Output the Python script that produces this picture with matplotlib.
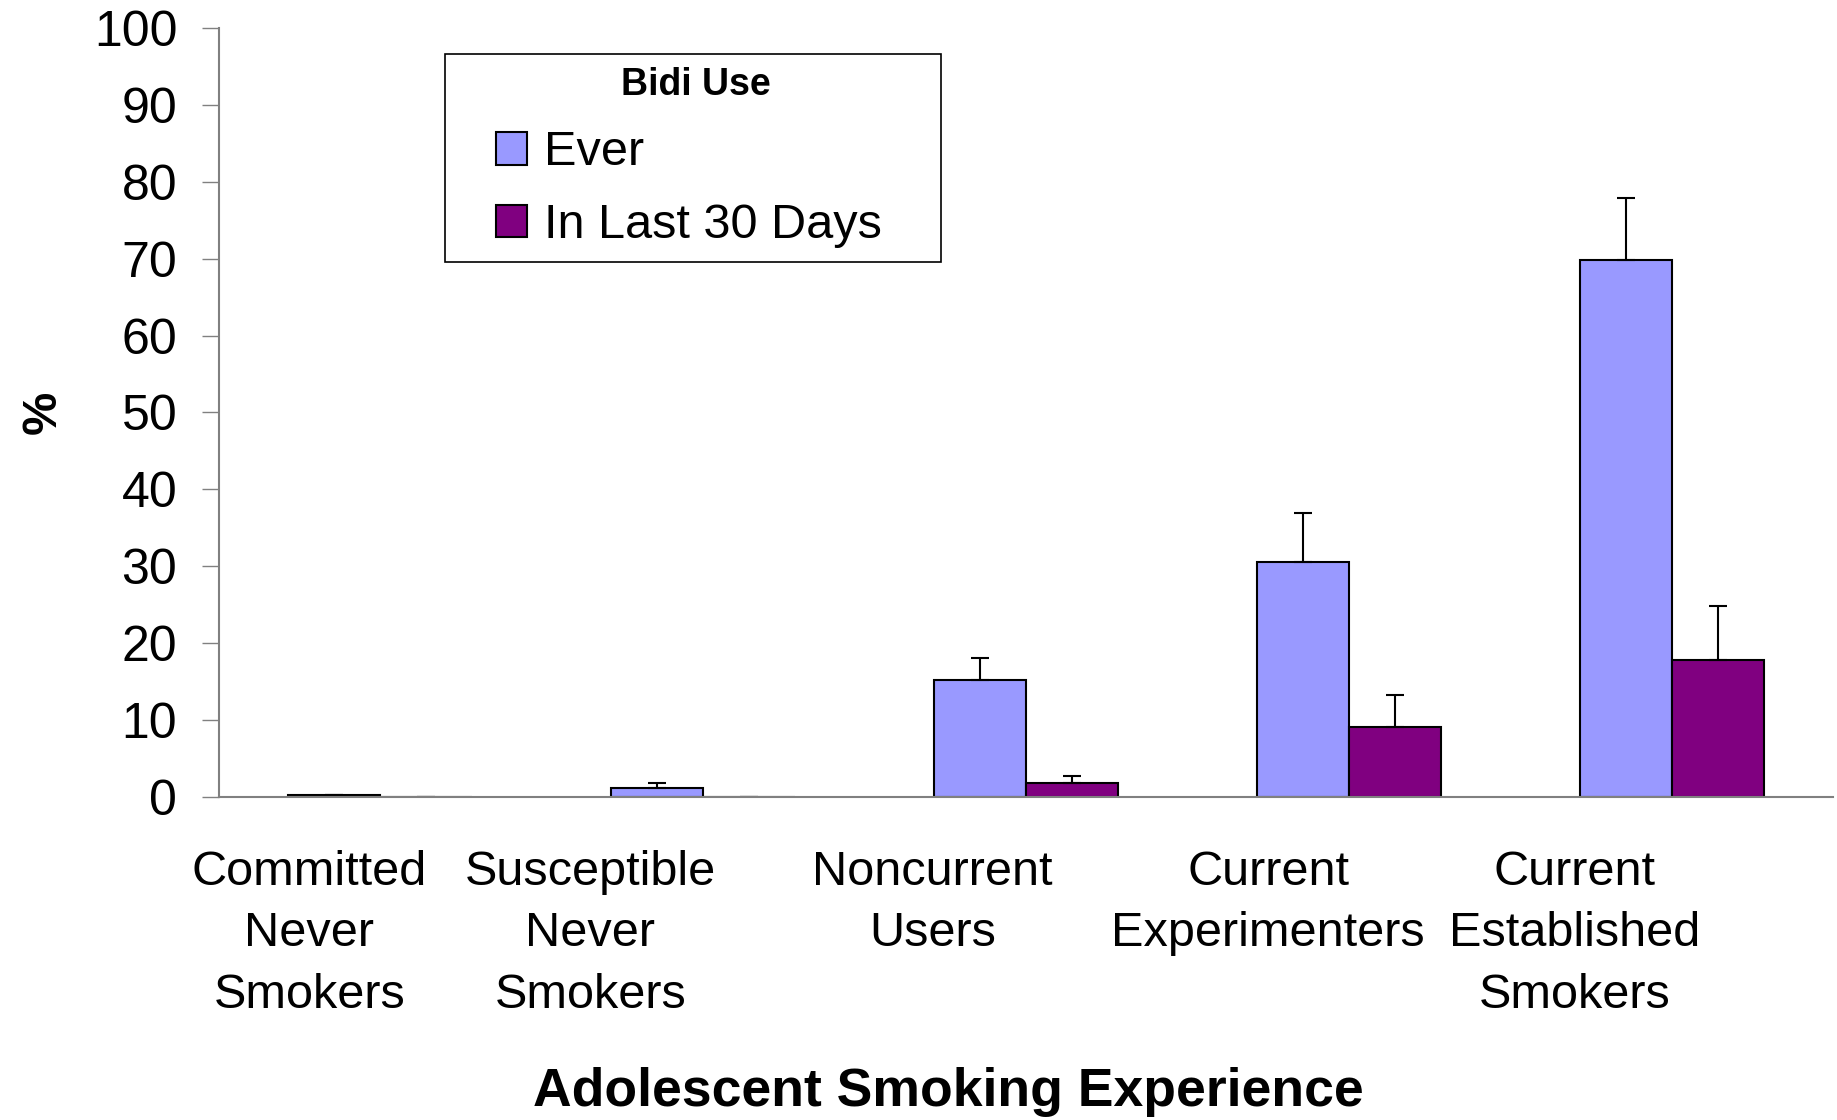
import matplotlib.pyplot as plt
import matplotlib.patches as mpatches
import numpy as np

plt.rcParams['font.family'] = ['Liberation Sans', 'DejaVu Sans']

# Data
categories = ['Committed\nNever\nSmokers', 'Susceptible\nNever\nSmokers',
              'Noncurrent\nUsers', 'Current\nExperimenters',
              'Current\nEstablished\nSmokers']
ever = [0.3, 1.2, 15.2, 30.6, 69.8]
ever_err = [0.0, 0.6, 2.9, 6.3, 8.1]
last30 = [0.05, 0.05, 1.8, 9.1, 17.8]
last30_err = [0.0, 0.0, 0.9, 4.2, 7.0]

fig = plt.figure(figsize=(18.37, 11.2), dpi=100)
ax = fig.add_axes([0.1192, 0.2884, 0.8786, 0.6866])

x = np.arange(len(categories))
w = 0.285
err_kw = dict(ecolor='black', elinewidth=1.5, capsize=6.5, capthick=1.5)

ax.bar(x - w / 2, ever, w, color='#9999FF', edgecolor='black', linewidth=1.5,
       yerr=[np.zeros(len(ever)), ever_err], error_kw=err_kw, label='Ever')
ax.bar(x + w / 2, last30, w, color='#800080', edgecolor='black', linewidth=1.5,
       yerr=[np.zeros(len(last30)), last30_err], error_kw=err_kw,
       label='In Last 30 Days')

ax.set_xlim(-0.5, len(categories) - 0.5)
ax.set_ylim(0, 100)
ax.set_yticks(np.arange(0, 101, 10))
ax.tick_params(axis='y', labelsize=36, length=12, width=1, color='#808080', pad=18)

# category labels sit left of the bar pairs, like the original
label_shift = [-0.22, -0.35, -0.29, -0.25, -0.30]
ax.set_xticks(x + np.array(label_shift))
ax.set_xticklabels(categories, fontsize=35, linespacing=1.47)
ax.tick_params(axis='x', length=0, pad=38)

for s in ['top', 'right']:
    ax.spines[s].set_visible(False)
for s in ['left', 'bottom']:
    ax.spines[s].set_color('#808080')
    ax.spines[s].set_linewidth(1.5)

ax.set_ylabel('%', fontsize=35, fontweight='bold')
ax.yaxis.set_label_coords(-0.095, 0.5)

fig.text(0.516, 0.025, 'Adolescent Smoking Experience', fontsize=38.5,
         fontweight='bold', ha='center', va='center')

# legend: box, title and entries placed separately
box = mpatches.Rectangle((445 / 1837, 1 - 262 / 1120), 496 / 1837, 208 / 1120,
                         transform=fig.transFigure, facecolor='white',
                         edgecolor='black', linewidth=1.2, zorder=4, clip_on=False)
ax.add_patch(box)
ax.text(696 / 1837, 1 - 85 / 1120, 'Bidi Use', fontsize=27, fontweight='bold',
        ha='center', va='center', transform=fig.transFigure, zorder=6)
leg = ax.legend(loc='center left', bbox_to_anchor=(0.2698, 0.8310),
                bbox_transform=fig.transFigure, fontsize=35, frameon=False,
                handlelength=0.65, handleheight=0.65, handletextpad=0.34,
                borderpad=0, labelspacing=0.57, borderaxespad=0)
leg.set_zorder(7)

fig.savefig('out.png', dpi=100)
